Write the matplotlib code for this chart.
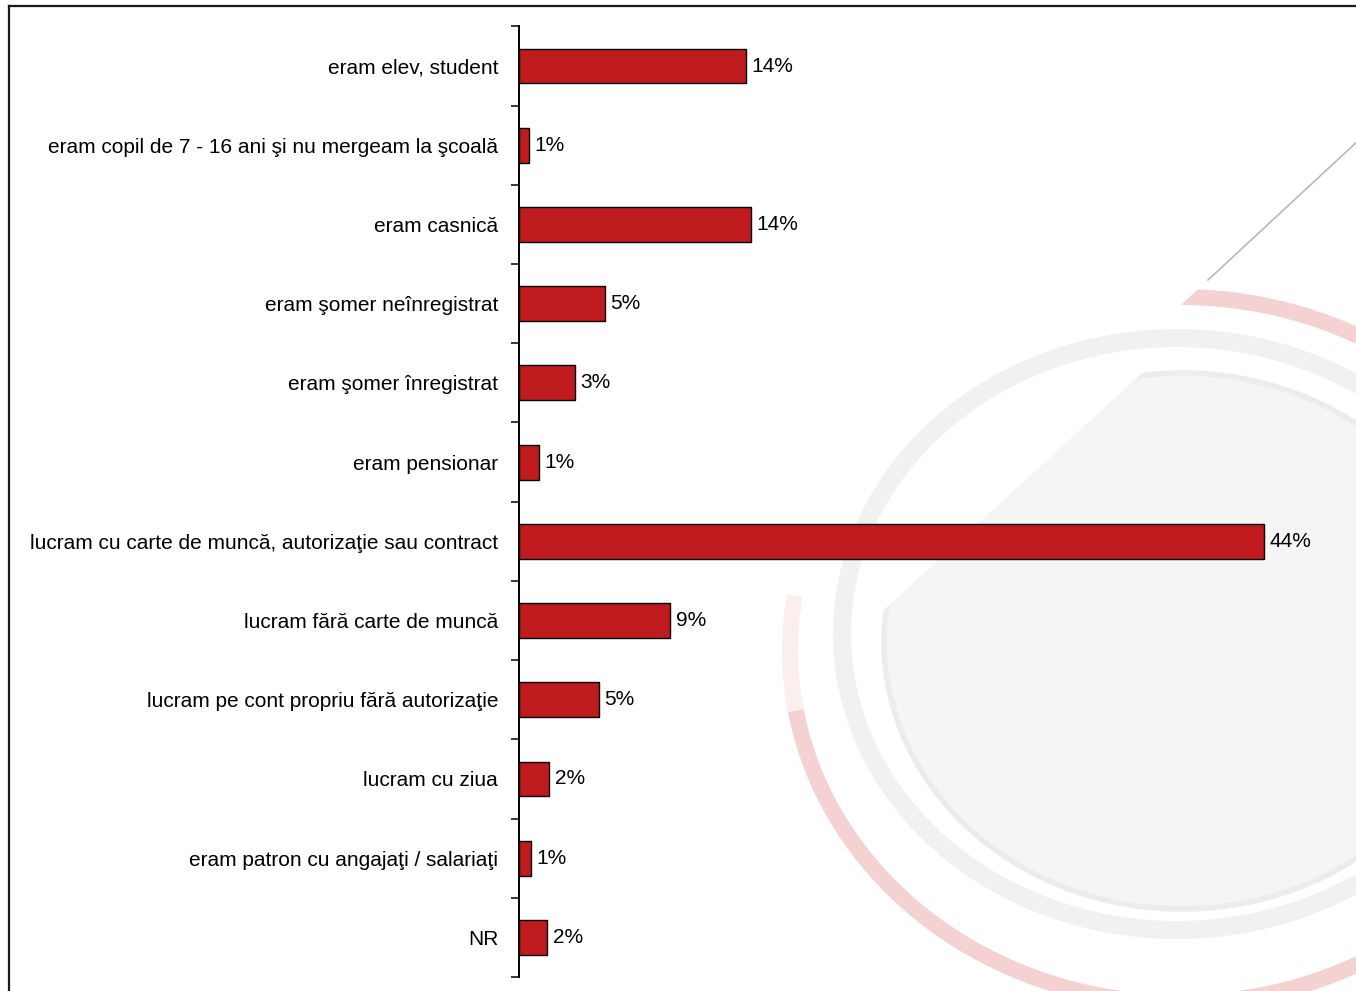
import matplotlib
matplotlib.use("Agg")
import matplotlib.pyplot as plt
import numpy as np
from matplotlib.lines import Line2D
from matplotlib.patches import Ellipse, Arc, Polygon

categories = [
    "eram elev, student",
    "eram copil de 7 - 16 ani şi nu mergeam la şcoală",
    "eram casnică",
    "eram şomer neînregistrat",
    "eram şomer înregistrat",
    "eram pensionar",
    "lucram cu carte de muncă, autorizaţie sau contract",
    "lucram fără carte de muncă",
    "lucram pe cont propriu fără autorizaţie",
    "lucram cu ziua",
    "eram patron cu angajaţi / salariaţi",
    "NR",
]
values = [13.55, 0.61, 13.86, 5.13, 3.34, 1.19, 44.45, 9.01, 4.77, 1.79, 0.72, 1.67]

BAR_COLOR = "#bf1a1d"
FONT = ["Liberation Sans Narrow", "Liberation Sans", "DejaVu Sans"]

W, H = 1356, 991
plt.rcParams["font.family"] = FONT

fig = plt.figure(figsize=(W / 100, H / 100), dpi=100)
fig.patch.set_facecolor("white")

# background logo drawn in pixel units (y measured upward)
bg = fig.add_axes([0, 0, 1, 1], zorder=0)
bg.set_xlim(0, W)
bg.set_ylim(0, H)
bg.axis("off")


def cut_polygon(p0, direction, ax):
    # half-plane lying to the lower right of a line through p0
    d = np.array(direction, dtype=float)
    d /= np.hypot(*d)
    a = np.array(p0) - 3000 * d
    b = np.array(p0) + 3000 * d
    return Polygon([a, b, (6000, 6000), (6000, -6000)], closed=True, transform=ax.transData)


ring = Ellipse((1177, H - 634), width=2 * 335, height=2 * 296, fill=False,
               edgecolor="#f1f1f1", linewidth=13)
bg.add_patch(ring)

disk = Ellipse((1182, H - 641), width=2 * 298, height=2 * 268,
               facecolor="#f5f5f5", edgecolor="#ececec", linewidth=4)
bg.add_patch(disk)
disk.set_clip_path(cut_polygon((885, H - 609), (255, 234), bg))

red_arc = Arc((1180, H - 650), width=780, height=706, theta1=188, theta2=460,
              edgecolor="#f4d2d2", linewidth=11.5)
bg.add_patch(red_arc)
red_arc.set_clip_path(cut_polygon((1208, H - 280), (148, 137), bg))
fade_arc = Arc((1180, H - 650), width=780, height=706, theta1=172, theta2=189,
               edgecolor="#fbeeee", linewidth=11.5)
bg.add_patch(fade_arc)

bg.plot([1208, 1360], [H - 280, H - 139], color="#b8b8b8", linewidth=1.2)

# bar chart
ax = fig.add_axes([519 / W, 1 - 977 / H, 804.5 / W, 950.6 / H], zorder=1)
ax.patch.set_alpha(0)

y = np.arange(len(categories))
bars = ax.barh(y, values, height=0.44, color=BAR_COLOR, edgecolor="black", linewidth=1.0)

for rect, v in zip(bars, values):
    ax.annotate(f"{v:.0f}%", xy=(rect.get_width(), rect.get_y() + rect.get_height() / 2),
                xytext=(4, 0), textcoords="offset points", va="center", ha="left",
                fontsize=15, color="black")

ax.set_xlim(0, 48)
ax.set_ylim(len(categories) - 0.5, -0.5)
ax.set_yticks(y)
ax.set_yticklabels(categories, fontsize=15)
ax.set_yticks(np.arange(-0.5, len(categories)), minor=True)
ax.tick_params(axis="y", which="major", length=0, pad=15)
ax.tick_params(axis="y", which="minor", length=6, width=1.1, direction="out")
ax.set_xticks([])

for side in ("top", "right", "bottom"):
    ax.spines[side].set_visible(False)
ax.spines["left"].set_linewidth(1.4)

# outer frame
fig.add_artist(Line2D([9 / W, 9 / W], [0, 1 - 6 / H], color="#1a1a1a", linewidth=1.6,
                      transform=fig.transFigure))
fig.add_artist(Line2D([9 / W, 1], [1 - 6 / H, 1 - 6 / H], color="#1a1a1a", linewidth=1.6,
                      transform=fig.transFigure))

fig.savefig("out.png", dpi=100)
